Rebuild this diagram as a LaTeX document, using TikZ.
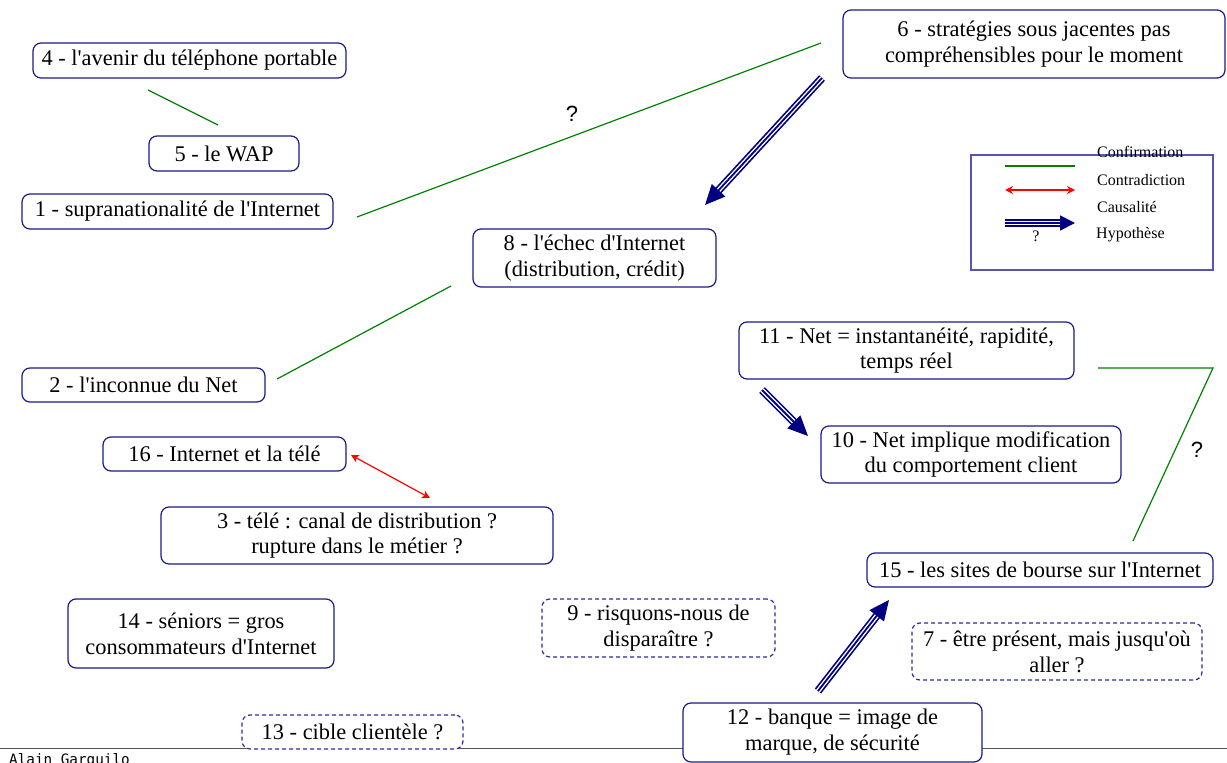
\documentclass[tikz,border=0pt]{standalone}
\usepackage{fontspec}
\setmainfont{Liberation Serif}
\newfontfamily\qfont{Liberation Sans}
\newfontfamily\monof{DejaVu Sans Mono}
\usetikzlibrary{arrows.meta}
\definecolor{navyb}{HTML}{1A1A8A}
\definecolor{legb}{HTML}{5555B5}
\definecolor{dashb}{HTML}{2B2BA0}
\definecolor{arrowb}{HTML}{000080}
\definecolor{confg}{HTML}{008000}
\definecolor{grayl}{HTML}{555555}
\newcommand\myap{\textquotesingle}
\begin{document}
\begin{tikzpicture}[x=1pt,y=-1pt,
 box/.style={draw=navyb, line width=1.2pt, rounded corners=8pt, fill=white, inner sep=0pt, align=center, font=\fontsize{22.4}{25.8}\selectfont},
 dbox/.style={box, draw=dashb, dash pattern=on 4pt off 3pt},
 confirm/.style={draw=confg, line width=1.2pt},
 contra/.style={draw=red, line width=1.2pt, {Stealth[length=8pt,width=8pt]}-{Stealth[length=8pt,width=8pt]}},
 causal/.style={draw=arrowb, line width=1.8pt, -{Triangle[length=20pt,width=18pt]},
   preaction={draw=arrowb, line width=8pt, shorten >=14pt, -},
   preaction={draw=white, line width=4.6pt, shorten >=14pt, -}},
 causalsmall/.style={draw=arrowb, line width=1.8pt, -{Triangle[length=15pt,width=15pt]},
   preaction={draw=arrowb, line width=8pt, shorten >=10pt, -},
   preaction={draw=white, line width=4.6pt, shorten >=10pt, -}},
 qlabel/.style={font=\qfont\fontsize{22}{26}\selectfont, inner sep=0pt},
 legtext/.style={font=\fontsize{16}{19}\selectfont, inner sep=0pt, anchor=west},
]
\useasboundingbox (0,0) rectangle (1227,763);

% bottom rule and signature
\coordinate (ruleL) at (0,748.5);
\coordinate (ruleR) at (1227,748.5);
\draw[grayl, line width=1.5pt] (ruleL) -- (ruleR);
\node[anchor=base west, font=\monof\fontsize{14.3}{16}\selectfont, inner sep=0pt] (sig) at (9,764) {Alain Garguilo};

% boxes
\node[box, minimum width=313pt, minimum height=35pt] (n4) at (189.5,60.5) {4 - l\myap avenir du téléphone portable};
\node[box, minimum width=150pt, minimum height=35pt] (n5) at (224,153.5) {5 - le WAP};
\node[box, minimum width=311pt, minimum height=35pt] (n1) at (177.5,211.5) {1 - supranationalité de l\myap Internet};
\node[box, minimum width=382pt, minimum height=68pt] (n6) at (1034,44) {6 - stratégies sous jacentes pas\\compréhensibles pour le moment};
\node[box, minimum width=243pt, minimum height=58pt] (n8) at (594.5,258) {8 - l\myap échec d\myap Internet\\(distribution, crédit)};
\node[box, minimum width=243pt, minimum height=34pt] (n2) at (143.5,385) {2 - l\myap inconnue du Net};
\node[box, minimum width=243pt, minimum height=34pt] (n16) at (224.5,454) {16 - Internet et la télé};
\node[box, minimum width=392pt, minimum height=57pt] (n3) at (357,535.5) {3 - télé : canal de distribution ?\\rupture dans le métier ?};
\node[box, minimum width=266pt, minimum height=69pt] (n14) at (201,633.5) {14 - séniors = gros\\consommateurs d\myap Internet};
\node[box, minimum width=335pt, minimum height=57pt] (n11) at (906.5,350.5) {11 - Net = instantanéité, rapidité,\\temps réel};
\node[box, minimum width=300pt, minimum height=57pt] (n10) at (971,454.5) {10 - Net implique modification\\du comportement client};
\node[box, minimum width=346pt, minimum height=34pt] (n15) at (1040,570) {15 - les sites de bourse sur l\myap Internet};
\node[dbox, minimum width=233pt, minimum height=58pt] (n9) at (658.5,628) {9 - risquons-nous de\\disparaître ?};
\node[dbox, minimum width=290pt, minimum height=57pt] (n7) at (1057,651.5) {7 - être présent, mais jusqu\myap où\\aller ?};
\node[box, minimum width=299pt, minimum height=59pt] (n12) at (832.5,732.5) {12 - banque = image de\\marque, de sécurité};
\node[dbox, minimum width=221pt, minimum height=34pt] (n13) at (352.5,732) {13 - cible clientèle ?};

% connector end points
\coordinate (c45a) at (148,90);
\coordinate (c45b) at (218,125);
\coordinate (c16a) at (357,217);
\coordinate (c16b) at (821,43);
\coordinate (c68a) at (822,78);
\coordinate (c68b) at (705,205);
\coordinate (c28a) at (277,379);
\coordinate (c28b) at (451,286);
\coordinate (c163a) at (351,455);
\coordinate (c163b) at (430,498);
\coordinate (c1110a) at (762,390);
\coordinate (c1110b) at (808,436);
\coordinate (c1115a) at (1098,368);
\coordinate (c1115m) at (1213,368);
\coordinate (c1115b) at (1133,541);
\coordinate (c1215a) at (818,691);
\coordinate (c1215b) at (889,600);

% connectors
\draw[confirm] (c45a) -- (c45b);
\draw[confirm] (c16a) -- (c16b);
\node[qlabel] (q16) at (572,114) {?};
\draw[causal] (c68a) -- (c68b);
\draw[confirm] (c28a) -- (c28b);
\draw[contra] (c163a) -- (c163b);
\draw[causal] (c1110a) -- (c1110b);
\draw[confirm] (c1115a) -- (c1115m) -- (c1115b);
\node[qlabel] (q1115) at (1197,450) {?};
\draw[causal] (c1215a) -- (c1215b);

% legend
\node[draw=legb, line width=1.2pt, minimum width=242pt, minimum height=115pt, inner sep=0pt] (leg) at (1092,212.5) {};
\coordinate (lg1a) at (1005,166);
\coordinate (lg1b) at (1075,166);
\coordinate (lg2a) at (1005,190);
\coordinate (lg2b) at (1075,190);
\coordinate (lg3a) at (1005,223);
\coordinate (lg3b) at (1075,223);
\draw[confirm] (lg1a) -- (lg1b);
\draw[contra] (lg2a) -- (lg2b);
\draw[causalsmall] (lg3a) -- (lg3b);
\node[font=\fontsize{16}{19}\selectfont, inner sep=0pt] (lgq) at (1036,236) {?};
\node[legtext] (lt1) at (1097,152) {Confirmation};
\node[legtext] (lt2) at (1097,180) {Contradiction};
\node[legtext] (lt3) at (1097,207) {Causalité};
\node[legtext] (lt4) at (1096,235) {Hypothèse};
\end{tikzpicture}
\end{document}
